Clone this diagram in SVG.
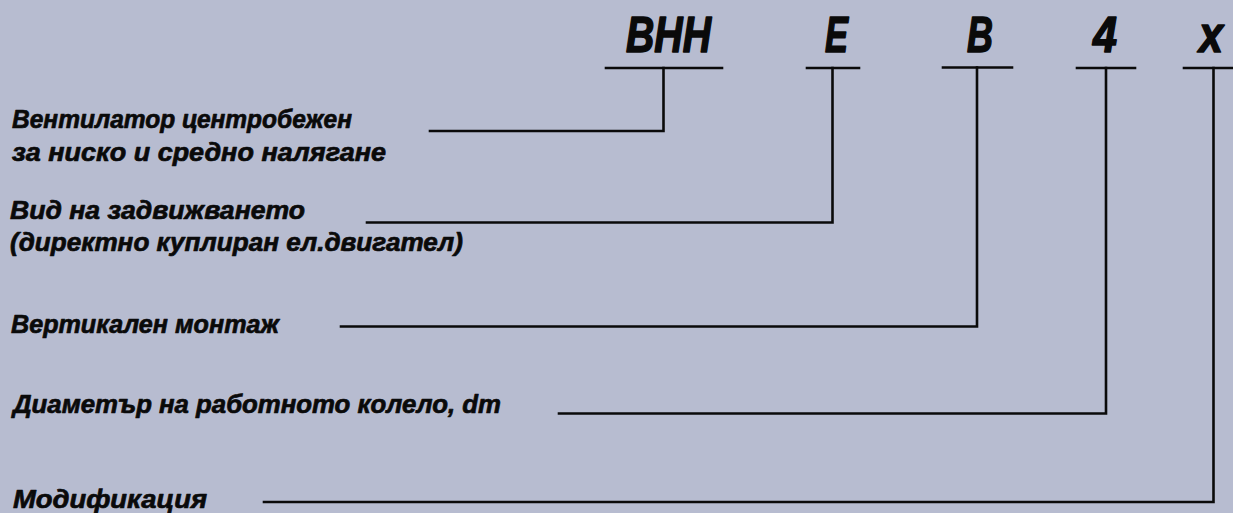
<svg xmlns="http://www.w3.org/2000/svg" width="1233" height="513" viewBox="0 0 1233 513">
<style>
.code{font-family:"Liberation Sans",Arial,sans-serif;font-weight:bold;font-style:italic;font-size:50px;fill:#0a0a0a;stroke:#0a0a0a;stroke-width:1.6;stroke-linejoin:round}
.lbl{font-family:"Liberation Sans",Arial,sans-serif;font-weight:bold;font-style:italic;font-size:26px;fill:#0a0a0a;stroke:#0a0a0a;stroke-width:0.7;stroke-linejoin:round}
.ln{fill:none;stroke:#0a0a0a;stroke-width:2.6;stroke-linecap:square;stroke-linejoin:miter}
</style>
<rect width="1233" height="513" fill="#b7bcd0"/>
<g id="code-bhh">
<text class="code" x="626" y="52" textLength="85" lengthAdjust="spacingAndGlyphs">ВНН</text>
</g>
<g id="code-e">
<text class="code" x="825" y="52" textLength="23" lengthAdjust="spacingAndGlyphs">Е</text>
</g>
<g id="code-b">
<text class="code" x="967" y="52" textLength="26" lengthAdjust="spacingAndGlyphs">В</text>
</g>
<g id="code-4">
<text class="code" x="1093" y="52" textLength="24" lengthAdjust="spacingAndGlyphs">4</text>
</g>
<g id="code-x">
<text class="code" x="1199" y="52" textLength="24" lengthAdjust="spacingAndGlyphs">x</text>
</g>
<g id="label-fan">
<text class="lbl" x="12" y="128" textLength="340" lengthAdjust="spacingAndGlyphs">Вентилатор центробежен</text>
<text class="lbl" x="12" y="161" textLength="374" lengthAdjust="spacingAndGlyphs">за ниско и средно налягане</text>
</g>
<g id="label-drive">
<text class="lbl" x="10" y="219" textLength="295" lengthAdjust="spacingAndGlyphs">Вид на задвижването</text>
<text class="lbl" x="10" y="251" textLength="453" lengthAdjust="spacingAndGlyphs">(директно куплиран ел.двигател)</text>
</g>
<g id="label-mount">
<text class="lbl" x="11" y="333" textLength="268" lengthAdjust="spacingAndGlyphs">Вертикален монтаж</text>
</g>
<g id="label-diameter">
<text class="lbl" x="13" y="413" textLength="488" lengthAdjust="spacingAndGlyphs">Диаметър на работното колело, dm</text>
</g>
<g id="label-mod">
<text class="lbl" x="13" y="508" textLength="194" lengthAdjust="spacingAndGlyphs">Модификация</text>
</g>
<g id="connectors">
<path class="ln" d="M606 68H722"/>
<path class="ln" d="M430 131H663.5V68"/>
<path class="ln" d="M807 68H859"/>
<path class="ln" d="M367 222.5H832.5V68"/>
<path class="ln" d="M943 67.5H1012"/>
<path class="ln" d="M341 326.5H977V67.5"/>
<path class="ln" d="M1077 68H1135"/>
<path class="ln" d="M559 413.5H1106V68"/>
<path class="ln" d="M1184 68H1233"/>
<path class="ln" d="M264 502H1213.5V68"/>
</g>
</svg>
